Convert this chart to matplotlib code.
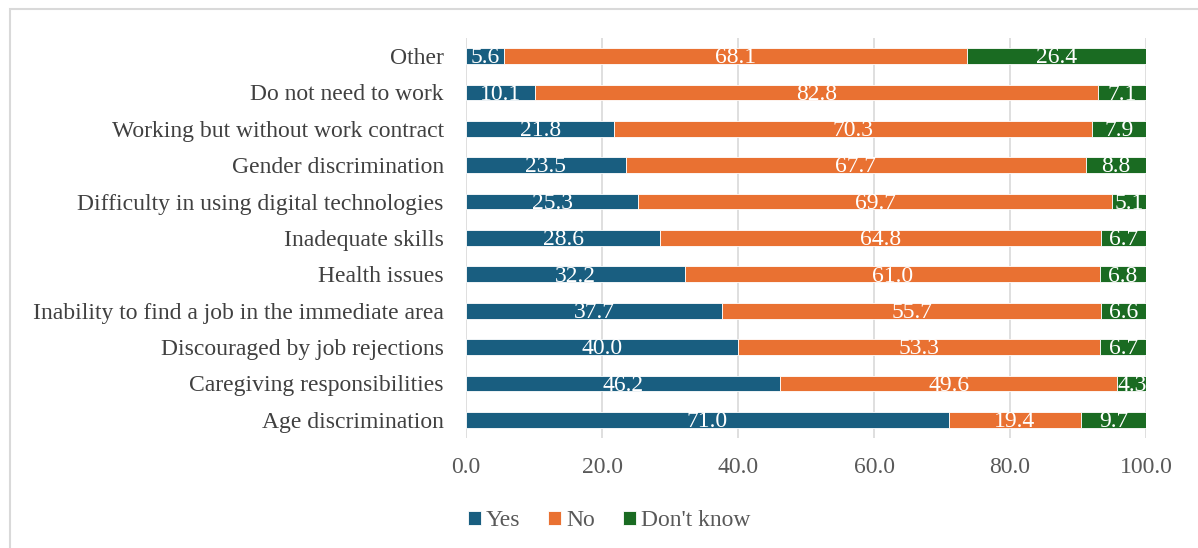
import numpy as np
import matplotlib.pyplot as plt
from matplotlib.patches import Rectangle

plt.rcParams['font.family'] = ['Liberation Serif', 'DejaVu Serif']

categories = ["Age discrimination", "Caregiving responsibilities",
              "Discouraged by job rejections",
              "Inability to find a job in the immediate area",
              "Health issues", "Inadequate skills",
              "Difficulty in using digital technologies",
              "Gender discrimination", "Working but without work contract",
              "Do not need to work", "Other"]
yes = [71.0, 46.2, 40.0, 37.7, 32.2, 28.6, 25.3, 23.5, 21.8, 10.1, 5.6]
no = [19.4, 49.6, 53.3, 55.7, 61.0, 64.8, 69.7, 67.7, 70.3, 82.8, 68.1]
dont_know = [9.7, 4.3, 6.7, 6.6, 6.8, 6.7, 5.1, 8.8, 7.9, 7.1, 26.4]

series = [("Yes", yes, "#195E80"), ("No", no, "#E97132"),
          ("Don't know", dont_know, "#1A6B22")]

fs = 17
fig = plt.figure(figsize=(11.98, 5.48), dpi=100)
ax = fig.add_axes([0.389, 0.2007, 0.5676, 0.7303])

y = np.arange(len(categories))
left = np.zeros(len(categories))
for name, vals, col in series:
    vals = np.array(vals)
    bars = ax.barh(y, vals, left=left, height=0.43, color=col,
                   edgecolor="white", linewidth=0.6, label=name)
    for b, v in zip(bars, vals):
        ax.text(b.get_x() + b.get_width() / 2, b.get_y() + b.get_height() / 2 - 0.05,
                f"{v:.1f}", ha="center", va="center", color="white", fontsize=fs)
    left += vals

ax.set_xlim(0, 100)
ax.set_ylim(-0.5, len(categories) - 0.5)
ax.set_yticks(y)
ax.set_yticklabels(categories, fontsize=fs, color="#404040")
ax.set_xticks(np.arange(0, 101, 20))
ax.set_xticklabels([f"{t:.1f}" for t in np.arange(0, 101, 20)],
                   fontsize=fs, color="#595959")
ax.tick_params(axis="y", length=0, pad=16)
ax.tick_params(axis="x", length=0, pad=14)
ax.grid(axis="x", color="#D9D9D9", linewidth=1.2)
ax.set_axisbelow(True)
for s in ax.spines.values():
    s.set_visible(False)

ax.legend(loc="upper center", bbox_to_anchor=(0.21, -0.128), ncol=3,
          frameon=False, fontsize=fs, handlelength=0.55, handleheight=0.55,
          handletextpad=0.2, columnspacing=1.2, labelcolor="#595959")

fig.patches.append(Rectangle((10 / 1198, -0.1), 1.2, 1 - 9 / 548 + 0.1,
                             transform=fig.transFigure, fill=False,
                             edgecolor="#D9D9D9", linewidth=1.5))

fig.savefig("out.png", dpi=100)
